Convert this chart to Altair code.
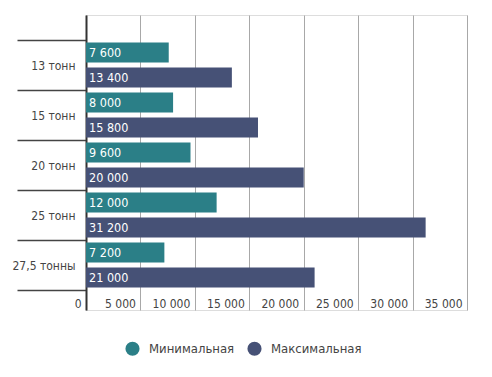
import altair as alt
import pandas as pd

categories = ["13 тонн", "15 тонн", "20 тонн", "25 тонн", "27,5 тонны"]
series = ["Минимальная", "Максимальная"]
min_values = [7600, 8000, 9600, 12000, 7200]
max_values = [13400, 15800, 20000, 31200, 21000]
x_ticks = [0, 5000, 10000, 15000, 20000, 25000, 30000, 35000]
colors = ["#2b7f87", "#465176"]

rows = []
for c, mn, mx in zip(categories, min_values, max_values):
    rows.append({"cat": c, "series": series[0], "value": mn})
    rows.append({"cat": c, "series": series[1], "value": mx})
df = pd.DataFrame(rows)
df["label"] = df["value"].map(lambda v: f"{v:,}".replace(",", " "))

FONT = "DejaVu Sans Condensed, sans-serif"

y_enc = alt.Y(
    "cat:N", sort=categories, title=None,
    scale=alt.Scale(paddingInner=0, paddingOuter=0.45, align=0.556),
    axis=alt.Axis(
        tickBand="extent", tickSize=69, tickColor="#444", tickWidth=1.5,
        domainColor="#333", domainWidth=2, labelFont=FONT, labelFontSize=12,
        labelColor="#444", labelPadding=-58, labelAlign="right",
    ),
)
yoff = alt.YOffset("series:N", sort=series,
                   scale=alt.Scale(paddingInner=0.2, paddingOuter=0.1))

x_enc = alt.X(
    "value:Q", title=None,
    scale=alt.Scale(domain=[0, 35000], nice=False),
    axis=alt.Axis(
        values=x_ticks, grid=True, gridColor="#a8a8a8", gridWidth=1,
        domain=False, ticks=False, labelFont=FONT, labelFontSize=12,
        labelColor="#444", labelAlign="right", labelOffset=-5,
        labelBaseline="alphabetic", labelPadding=-3,
        labelExpr="replace(format(datum.value, ','), ',', ' ')",
    ),
)

base = alt.Chart(df)
bars = base.mark_bar().encode(
    y=y_enc, yOffset=yoff, x=x_enc,
    color=alt.Color("series:N", sort=series,
                    scale=alt.Scale(domain=series, range=colors),
                    legend=alt.Legend(
                        title=None, orient="none", direction="horizontal",
                        legendX=39, legendY=326, symbolType="circle",
                        symbolSize=200, symbolStrokeWidth=0,
                        labelFont=FONT, labelFontSize=13, labelColor="#444",
                        columnPadding=12, labelOffset=9,
                    )),
)
texts = base.mark_text(align="left", baseline="middle", dx=3, color="white",
                       font=FONT, fontSize=12.5).encode(
    y=alt.Y("cat:N", sort=categories),
    yOffset=alt.YOffset("series:N", sort=series),
    x=alt.datum(0),
    text="label:N",
)

chart = alt.layer(bars, texts).properties(
    width=381, height=295,
    autosize=alt.AutoSizeParams(type="none"),
    padding={"left": 86, "top": 15, "right": 25, "bottom": 67},
).configure_view(stroke=None).configure(background="white")

chart.save("out.html", embed_options={"renderer": "svg", "actions": False})
